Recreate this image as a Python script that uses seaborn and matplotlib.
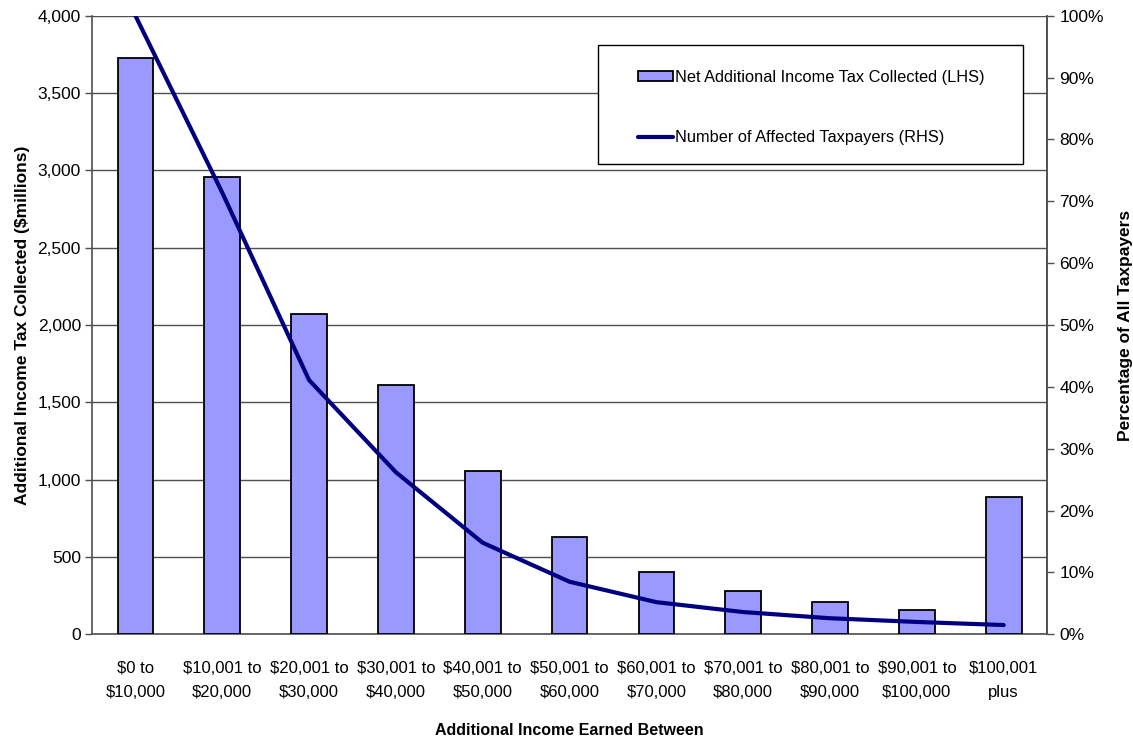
import numpy as np
import pandas as pd
import matplotlib
matplotlib.use("Agg")
import matplotlib.pyplot as plt
import seaborn as sns
from matplotlib.patches import Patch, Rectangle
from matplotlib.lines import Line2D
from matplotlib.ticker import FuncFormatter, MultipleLocator

income_bands = [
    "$0 to\n$10,000", "$10,001 to\n$20,000", "$20,001 to\n$30,000",
    "$30,001 to\n$40,000", "$40,001 to\n$50,000", "$50,001 to\n$60,000",
    "$60,001 to\n$70,000", "$70,001 to\n$80,000", "$80,001 to\n$90,000",
    "$90,001 to\n$100,000", "$100,001\nplus",
]
tax_collected = [3728, 2955, 2071, 1612, 1058, 631, 405, 280, 207, 157, 886]
pct_taxpayers = [100.0, 71.4, 41.1, 26.2, 14.8, 8.5, 5.2, 3.6, 2.6, 2.0, 1.5]

bar_label = "Net Additional Income Tax Collected (LHS)"
line_label = "Number of Affected Taxpayers (RHS)"

sns.set_style("white")
plt.rcParams["font.family"] = ["Liberation Sans", "DejaVu Sans"]
plt.rcParams["text.color"] = "black"
plt.rcParams["axes.labelcolor"] = "black"
plt.rcParams["xtick.color"] = "black"
plt.rcParams["ytick.color"] = "black"

df = pd.DataFrame({"band": income_bands, "tax": tax_collected, "pct": pct_taxpayers})
df["pos"] = np.arange(len(df))

fig = plt.figure(figsize=(11.33, 7.40), dpi=100)
ax = fig.add_axes([0.0812, 0.1428, 0.8430, 0.8360])

bar_color = "#9999FF"
line_color = "#000080"
axis_gray = "#505050"

sns.barplot(data=df, x="band", y="tax", color=bar_color, width=0.41,
            edgecolor="black", linewidth=1.3, saturation=1, ax=ax, zorder=3)

ax.set_ylim(0, 4000)
ax.set_xlim(-0.5, len(df) - 0.5)
ax.yaxis.set_major_locator(MultipleLocator(500))
ax.yaxis.set_major_formatter(FuncFormatter(lambda v, p: f"{int(v):,}"))
ax.grid(axis="y", color=axis_gray, linewidth=1.0, zorder=0)
ax.set_axisbelow(True)

# category boundaries carry the x tick marks
ax.set_xticks(np.arange(len(df)))
ax.set_xticklabels(income_bands, fontsize=12, linespacing=1.8)
ax.set_xticks(np.arange(-0.5, len(df)), minor=True)
ax.tick_params(axis="x", which="major", length=0, pad=19)
ax.tick_params(axis="x", which="minor", length=6, width=1, color=axis_gray, direction="out")
ax.tick_params(axis="y", length=5, width=1, color=axis_gray, direction="out",
               labelsize=12.5, pad=3, left=True)

ax.spines["top"].set_visible(False)
for side in ["left", "bottom", "right"]:
    ax.spines[side].set_color(axis_gray)
    ax.spines[side].set_linewidth(1.2)

ax.set_xlabel("Additional Income Earned Between", fontsize=11.5, fontweight="bold", labelpad=16)
ax.set_ylabel("Additional Income Tax Collected ($millions)", fontsize=12.5,
              fontweight="bold", labelpad=5)

ax2 = ax.twinx()
sns.lineplot(data=df, x="pos", y="pct", color=line_color, linewidth=3, ax=ax2, zorder=4)
ax2.set_ylim(0, 100)
ax2.set_xlim(-0.5, len(df) - 0.5)
ax2.yaxis.set_major_locator(MultipleLocator(10))
ax2.yaxis.set_major_formatter(FuncFormatter(lambda v, p: f"{int(v)}%"))
ax2.tick_params(axis="y", length=5, width=1, color=axis_gray, direction="out",
                labelsize=12.5, pad=4, right=True)
ax2.set_ylabel("Percentage of All Taxpayers", fontsize=12.5, fontweight="bold", labelpad=10)
ax2.set_xlabel("")
for side in ["top", "left", "bottom"]:
    ax2.spines[side].set_visible(False)
ax2.spines["right"].set_color(axis_gray)
ax2.spines["right"].set_linewidth(1.2)

# legend box
box = Rectangle((0.530, 0.760), 0.445, 0.193, transform=ax2.transAxes,
                facecolor="white", edgecolor="black", linewidth=1.0, zorder=5)
ax2.add_patch(box)

handles = [
    Patch(facecolor=bar_color, edgecolor="black", linewidth=1.3),
    Line2D([0], [0], color=line_color, linewidth=3),
]
leg = ax2.legend(handles, [bar_label, line_label], loc="upper left",
                 bbox_to_anchor=(0.5717, 0.913), fontsize=11.75, frameon=False,
                 labelspacing=2.8, borderpad=0, handlelength=2.15,
                 handleheight=0.55, handletextpad=0.12, borderaxespad=0)
leg.set_zorder(6)

fig.savefig("out.png", dpi=100, facecolor="white")
